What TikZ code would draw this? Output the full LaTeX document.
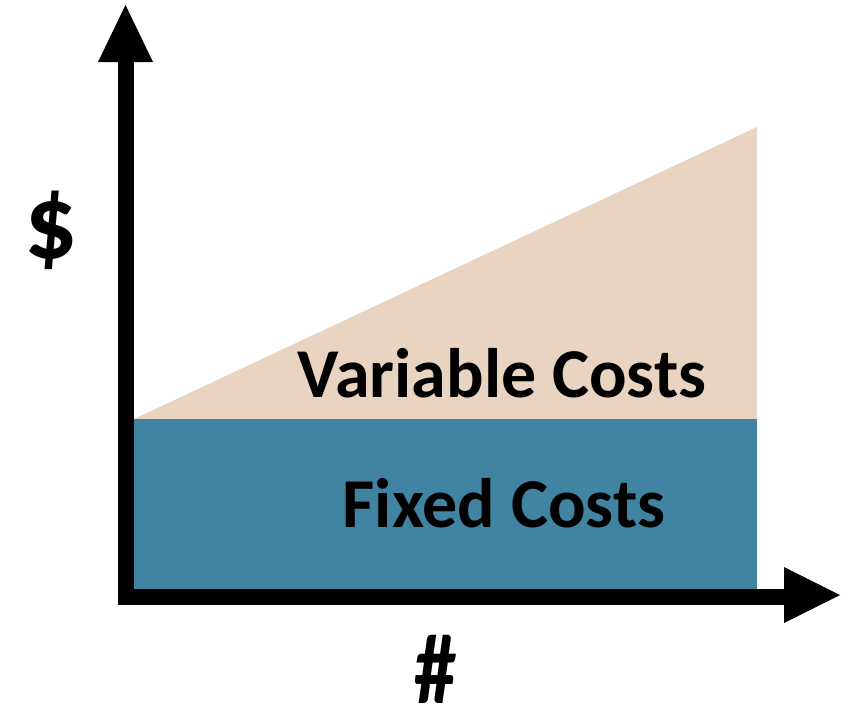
\documentclass[tikz,border=0pt]{standalone}
\usepackage{fontspec}
\usepackage{graphicx}
\setmainfont{Carlito}
\definecolor{fixedblue}{HTML}{4084A2}
\definecolor{varbeige}{HTML}{E8D4C0}
\begin{document}
\begin{tikzpicture}[x=1pt,y=-1pt,
  axis/.style={line width=16pt,line join=miter},
  tiphead/.style={fill=black},
  lbl/.style={font=\bfseries\fontsize{70}{70}\selectfont,inner sep=0pt,anchor=base},
  axlbl/.style={font=\bfseries\fontsize{100}{100}\selectfont,inner sep=0pt,anchor=base,text depth=0pt}]
\useasboundingbox (0,0) rectangle (849,723);
% regions
\fill[varbeige] (134,419) -- (757,127) -- (757,419) -- cycle;
\fill[fixedblue] (134,419) rectangle (757,589);
% axes
\coordinate (ytop) at (125.5,60);
\coordinate (origin) at (125.5,597);
\coordinate (xend) at (786,597);
\draw[axis] (ytop) -- (origin) -- (xend);
\fill[tiphead] (98,62) -- (125.5,5) -- (153,62) -- cycle;
\fill[tiphead] (784,567) -- (840,595) -- (784,623) -- cycle;
% labels
\node[lbl] (var) at (502,397) {Variable Costs};
\node[lbl] (fix) at (504,527) {Fixed Costs};
\node[axlbl] (dollar) at (51,258) {\scalebox{1.05}[1.05]{\$}};
\node[axlbl] (hash) at (436,703) {\scalebox{0.85}[1]{\#}};
\end{tikzpicture}
\end{document}
